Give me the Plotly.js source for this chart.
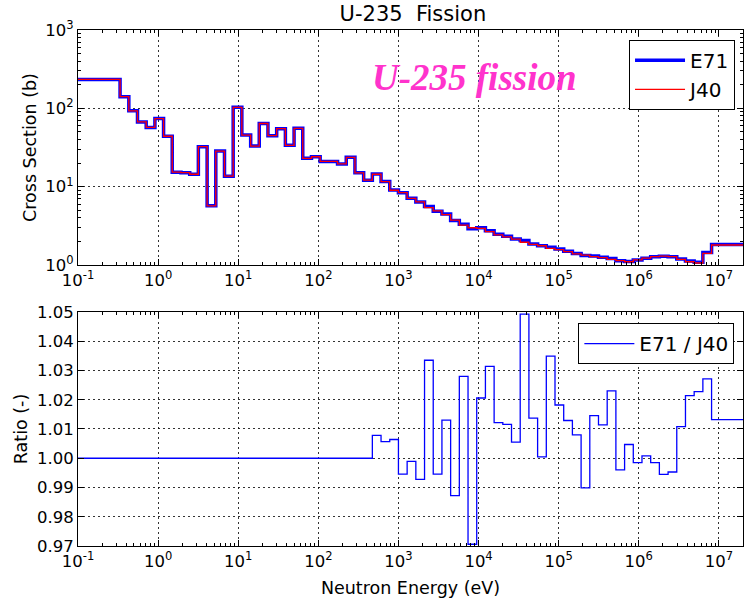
<!DOCTYPE html>
<html>
<head>
<meta charset="utf-8">
<script src="https://cdn.plot.ly/plotly-3.0.1.min.js"></script>
<style>html,body{margin:0;padding:0;background:#fff;}#chart{width:744px;height:601px;}</style>
</head>
<body>
<div id="chart"></div>
<script>
// Group boundaries (eV)
const energyEdges = [0.1, 0.335, 0.431, 0.553, 0.710, 0.912, 1.17, 1.50, 1.93, 2.48, 3.18, 4.09, 5.25, 6.74, 8.65,
  11.1, 14.3, 18.3, 23.5, 30.2, 38.8, 49.8, 63.9, 82.1, 105.4, 135.3, 173.8, 223.1, 286.5, 367.9, 472.4, 606.5, 778.8,
  1000, 1284, 1649, 2117, 2718, 3490, 4482, 5755, 7389, 9488, 12183, 15643, 20086, 25790, 33115, 42521, 54598, 70105,
  90017, 115584, 148413, 190566, 244692, 314191, 403429, 518013, 665142, 854059, 1096633, 1408105, 1808042, 2321572,
  2980958, 3827626, 4914769, 6310688, 8103084, 2e7];

// J40 group cross sections (b)
const j40 = [234, 141, 93, 67, 57, 74, 44, 15.3, 15.1, 14.4, 32.4, 5.7, 28.5, 13.6, 103,
  45.6, 33, 64, 44.7, 55, 33.7, 55.5, 23, 24.1, 21, 21, 19.5, 23.7, 15, 12.1, 14.4, 11.6, 9.0,
  8.4, 7.1, 6.4, 5.4, 4.9, 4.4, 3.74, 3.23, 2.99, 2.93, 2.66, 2.43, 2.29, 2.14, 1.95, 1.83, 1.76,
  1.63, 1.57, 1.48, 1.39, 1.34, 1.28, 1.24, 1.18, 1.14, 1.10, 1.16, 1.22, 1.28, 1.30, 1.28,
  1.18, 1.10, 1.06, 1.41, 1.80];

// E71 group cross sections (b)
const e71 = [234, 141, 93, 67, 57, 74, 44, 15.3, 15.1, 14.4, 32.4, 5.7, 28.5, 13.6, 103,
  45.6, 33, 64, 44.7, 55, 33.7, 55.5, 23, 24.1, 21, 21, 19.5, 23.7, 15, 12.1, 14.51, 11.67, 9.06,
  8.35, 7.09, 6.35, 5.58, 4.87, 4.46, 3.69, 3.32, 2.90, 2.99, 2.74, 2.46, 2.32, 2.15, 2.05, 1.855, 1.761,
  1.687, 1.599, 1.499, 1.401, 1.326, 1.299, 1.254, 1.207, 1.135, 1.105, 1.158, 1.221, 1.278, 1.293, 1.274,
  1.193, 1.124, 1.084, 1.448, 1.824];

// Ratio E71 / J40
const ratio = [1, 1, 1, 1, 1, 1, 1, 1, 1, 1, 1, 1, 1, 1, 1,
  1, 1, 1, 1, 1, 1, 1, 1, 1, 1, 1, 1, 1, 1, 1, 1.0078, 1.0057, 1.0064,
  0.9946, 0.9989, 0.9928, 1.0335, 0.9946, 1.0130, 0.9872, 1.0280, 0.9706, 1.0206, 1.0314, 1.0122, 1.0116, 1.0055, 1.0493, 1.0137, 1.0005,
  1.0349, 1.0182, 1.0129, 1.0080, 0.9899, 1.0146, 1.0114, 1.0230, 0.9960, 1.0047, 0.9985, 1.0008, 0.9985, 0.9945, 0.9953,
  1.0108, 1.0214, 1.0228, 1.0271, 1.0132];

const xTickVals = [0.1, 1, 10, 100, 1e3, 1e4, 1e5, 1e6, 1e7];
const xTickText = ['10<sup>-1</sup>', '10<sup>0</sup>', '10<sup>1</sup>', '10<sup>2</sup>', '10<sup>3</sup>',
  '10<sup>4</sup>', '10<sup>5</sup>', '10<sup>6</sup>', '10<sup>7</sup>'];
const yTickVals = [1, 10, 100, 1000];
const yTickText = ['10<sup>0</sup>', '10<sup>1</sup>', '10<sup>2</sup>', '10<sup>3</sup>'];

function stepY(v) { return v.concat([v[v.length - 1]]); }

const FONT = 'DejaVu Sans, sans-serif';

const traces = [
  {x: energyEdges, y: stepY(e71), name: 'E71', type: 'scatter', mode: 'lines',
   line: {shape: 'hv', color: '#0000ff', width: 3.5}, xaxis: 'x', yaxis: 'y', legend: 'legend'},
  {x: energyEdges, y: stepY(j40), name: 'J40', type: 'scatter', mode: 'lines',
   line: {shape: 'hv', color: '#ff0000', width: 1.3}, xaxis: 'x', yaxis: 'y', legend: 'legend'},
  {x: energyEdges, y: stepY(ratio), name: 'E71 / J40', type: 'scatter', mode: 'lines',
   line: {shape: 'hv', color: '#0000ff', width: 1.3}, xaxis: 'x2', yaxis: 'y2', legend: 'legend2'}
];

const axBase = {
  showline: true, linecolor: '#000', linewidth: 1, mirror: 'allticks',
  ticks: 'inside', ticklen: 6, tickcolor: '#000', tickwidth: 1,
  showgrid: true, gridcolor: '#000', griddash: '2px,3px', gridwidth: 0.8,
  zeroline: false, tickfont: {family: FONT, size: 16.5, color: '#000'}
};

const xAx = Object.assign({}, axBase, {
  type: 'log', range: [-1, Math.log10(2e7)], tickmode: 'array', tickvals: xTickVals, ticktext: xTickText,
  minor: {ticks: 'inside', ticklen: 3, tickcolor: '#000', dtick: 'D1', showgrid: false}
});

const layout = {
  width: 744, height: 601,
  margin: {l: 78, r: 1, t: 30, b: 55},
  paper_bgcolor: '#fff', plot_bgcolor: '#fff',
  font: {family: FONT, color: '#000'},
  title: {text: 'U-235\u00a0\u00a0Fission', font: {family: FONT, size: 21, color: '#000'}, x: 0.555, xanchor: 'center', y: 0.978, yanchor: 'middle'},
  xaxis: Object.assign({}, xAx, {anchor: 'y', domain: [0, 1]}),
  xaxis2: Object.assign({}, xAx, {anchor: 'y2', domain: [0, 1],
    title: {text: 'Neutron Energy (eV)', font: {family: FONT, size: 17.5, color: '#000'}, standoff: 11}}),
  yaxis: Object.assign({}, axBase, {
    type: 'log', range: [0, 3], domain: [0.5446, 1], anchor: 'x',
    tickmode: 'array', tickvals: yTickVals, ticktext: yTickText,
    minor: {ticks: 'inside', ticklen: 3, tickcolor: '#000', dtick: 'D1', showgrid: false},
    title: {text: 'Cross Section (b)', font: {family: FONT, size: 17.5, color: '#000'}, standoff: 4}
  }),
  yaxis2: Object.assign({}, axBase, {
    type: 'linear', range: [0.97, 1.05], domain: [0, 0.4535], anchor: 'x2',
    tickmode: 'linear', tick0: 0.97, dtick: 0.01, tickformat: '.2f',
    title: {text: 'Ratio (-)', font: {family: FONT, size: 17.5, color: '#000'}, standoff: 4}
  }),
  legend: {x: 0.988, xanchor: 'right', y: 0.981, yanchor: 'top', bgcolor: '#fff', bordercolor: '#000', borderwidth: 1,
    itemwidth: 50, font: {family: FONT, size: 20, color: '#000'}},
  legend2: {x: 0.987, xanchor: 'right', y: 0.432, yanchor: 'top', bgcolor: '#fff', bordercolor: '#000', borderwidth: 1,
    itemwidth: 50, font: {family: FONT, size: 20, color: '#000'}},
  annotations: [{
    text: 'U-235 fission', xref: 'paper', yref: 'paper', x: 0.596, y: 0.907, xanchor: 'center', yanchor: 'middle',
    showarrow: false, font: {family: 'Liberation Serif, serif', size: 37, color: '#ff33cc', weight: 'bold', style: 'italic'}
  }],
  showlegend: true
};

Plotly.newPlot('chart', traces, layout, {displayModeBar: false, staticPlot: true});
</script>
</body>
</html>
